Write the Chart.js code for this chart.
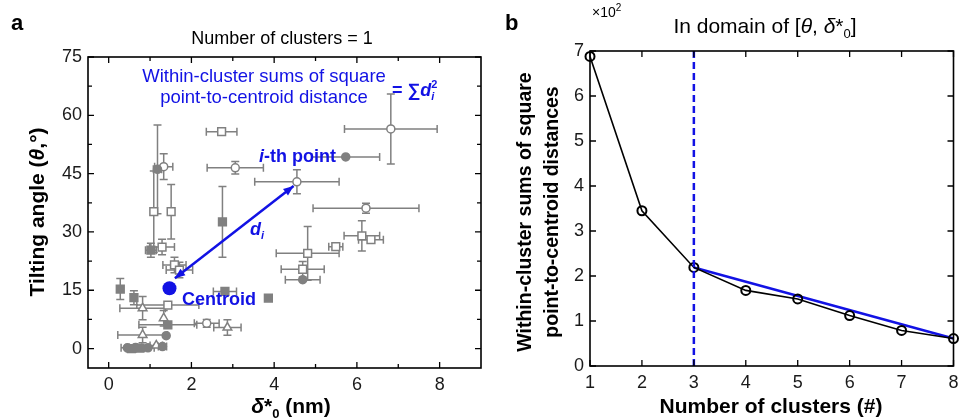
<!DOCTYPE html>
<html>
<head>
<meta charset="utf-8">
<script src="https://cdn.jsdelivr.net/npm/chart.js@4.4.1/dist/chart.umd.min.js"></script>
<style>
  body { margin: 0; background: #fff; }
  #wrap { position: relative; width: 960px; height: 418px; overflow: hidden; }
  canvas { position: absolute; top: 0; }
  #chartA { left: 0; }
  #chartB { left: 484px; }
</style>
</head>
<body>
<div id="wrap">
  <canvas id="chartA" width="488" height="418"></canvas>
  <canvas id="chartB" width="476" height="418"></canvas>
</div>
<script>
// ---- panel a data: [delta*0 (nm), theta (deg), x error, y error] ----
const filledSquares = [
  [2.75, 32.6, 0, 9.1], [0.28, 15.3, 0, 2.7], [0.61, 13.1, 0, 1.8], [1.43, 6.1, 0.7, 0],
  [2.81, 14.7, 0.28, 0], [3.86, 13.0, 0, 0], [1.02, 25.3, 0.13, 1.8],
  [0.55, 0.0, 0.12, 0], [0.75, 0.1, 0.12, 0]
];
const filledCircles = [
  [5.73, 49.3, 0.82, 0], [1.18, 46.1, 0.1, 11.4], [4.69, 17.7, 0.42, 0], [1.39, 3.3, 0, 0],
  [0.45, 0.2, 0.15, 0], [0.65, 0.3, 0.15, 0], [0.95, 0.2, 0.15, 0], [1.3, 0.5, 0.1, 0]
];
const openCircles = [
  [6.82, 56.5, 1.12, 9.0], [3.06, 46.5, 0.68, 1.6], [4.55, 42.9, 1.02, 3.1],
  [6.22, 36.1, 1.28, 1.3], [1.33, 46.8, 0.22, 3.3], [2.37, 6.5, 0.3, 1.0]
];
const openSquares = [
  [2.73, 55.8, 0.37, 0.8], [1.09, 35.2, 0, 10.5], [1.51, 35.2, 0, 7.0], [1.29, 26.1, 0.3, 2.0],
  [1.59, 21.5, 0.28, 2.0], [1.71, 20.2, 0.32, 2.0], [1.43, 11.2, 0.75, 0],
  [4.81, 24.5, 0.76, 6.9], [4.69, 20.4, 0.52, 2.0], [5.49, 26.2, 0.17, 0.8],
  [6.12, 29.0, 0.43, 3.9], [6.34, 28.0, 0.3, 0.8]
];
const openTriangles = [
  [0.82, 10.4, 0.55, 3.0], [1.33, 7.8, 0, 2.0], [0.82, 3.5, 0.6, 2.0],
  [2.87, 5.4, 0.33, 2.0], [1.15, 0.8, 0.15, 0]
];
const centroid = [1.47, 15.5];
const arrowEnds = [[1.6, 18.1], [4.47, 41.8]];

const aXTicks = [0, 2, 4, 6, 8];
const aXMinor = [1, 3, 5, 7];
const aYTicks = [0, 15, 30, 45, 60, 75];
const aYMinor = [7.5, 22.5, 37.5, 52.5, 67.5];

// ---- panel b data ----
const bClusters = [1, 2, 3, 4, 5, 6, 7, 8];
const bWcss = [6.88, 3.45, 2.19, 1.68, 1.49, 1.12, 0.79, 0.61]; // x10^2
const bYTicks = [0, 1, 2, 3, 4, 5, 6, 7];
const elbowK = 3;

const GRAY = 'rgb(128,128,128)';
const BLUE = 'rgb(18,18,228)';
const FAM = '"Liberation Sans", Arial, sans-serif';
const f = (s) => s + ' ' + FAM;

function toPts(arr) {
  return arr.map(p => ({ x: p[0], y: p[1], xe: p[2], ye: p[3] }));
}

// draw a run of text pieces: [text, font, dy, advance]
function rich(ctx, parts, x, y, align) {
  let w = 0;
  parts.forEach(p => { ctx.font = p[1]; if (p[3] !== false) w += ctx.measureText(p[0]).width; });
  let cx = align === 'center' ? x - w / 2 : (align === 'right' ? x - w : x);
  ctx.textAlign = 'left';
  parts.forEach(p => {
    ctx.font = p[1];
    ctx.fillText(p[0], cx, y + (p[2] || 0));
    if (p[3] !== false) cx += ctx.measureText(p[0]).width;
  });
}

function frameTicks(chart, xMaj, xMin, yMaj, yMin) {
  const { ctx, chartArea: a, scales } = chart;
  ctx.save();
  ctx.strokeStyle = '#000';
  ctx.lineWidth = 1.6;
  ctx.strokeRect(a.left, a.top, a.right - a.left, a.bottom - a.top);
  ctx.lineWidth = 1.3;
  const tx = (vals, len) => vals.forEach(v => {
    const px = scales.x.getPixelForValue(v);
    ctx.beginPath();
    ctx.moveTo(px, a.bottom); ctx.lineTo(px, a.bottom - len);
    ctx.moveTo(px, a.top); ctx.lineTo(px, a.top + len);
    ctx.stroke();
  });
  const ty = (vals, len) => vals.forEach(v => {
    const py = scales.y.getPixelForValue(v);
    ctx.beginPath();
    ctx.moveTo(a.left, py); ctx.lineTo(a.left + len, py);
    ctx.moveTo(a.right, py); ctx.lineTo(a.right - len, py);
    ctx.stroke();
  });
  tx(xMaj, 6); tx(xMin, 4); ty(yMaj, 6); ty(yMin, 4);
  ctx.restore();
}

const errorBars = {
  id: 'errorBars',
  beforeDatasetsDraw(chart) {
    const { ctx, scales } = chart;
    ctx.save();
    ctx.strokeStyle = GRAY;
    ctx.lineWidth = 1.5;
    chart.data.datasets.forEach(ds => {
      ds.data.forEach(p => {
        const px = scales.x.getPixelForValue(p.x), py = scales.y.getPixelForValue(p.y);
        ctx.beginPath();
        if (p.xe) {
          const l = scales.x.getPixelForValue(p.x - p.xe), r = scales.x.getPixelForValue(p.x + p.xe);
          ctx.moveTo(l, py); ctx.lineTo(r, py);
          ctx.moveTo(l, py - 4); ctx.lineTo(l, py + 4);
          ctx.moveTo(r, py - 4); ctx.lineTo(r, py + 4);
        }
        if (p.ye) {
          const t = scales.y.getPixelForValue(p.y + p.ye), b = scales.y.getPixelForValue(p.y - p.ye);
          ctx.moveTo(px, t); ctx.lineTo(px, b);
          ctx.moveTo(px - 4, t); ctx.lineTo(px + 4, t);
          ctx.moveTo(px - 4, b); ctx.lineTo(px + 4, b);
        }
        ctx.stroke();
      });
    });
    ctx.restore();
  }
};

function arrowHead(ctx, x0, y0, x1, y1) {
  const ang = Math.atan2(y1 - y0, x1 - x0);
  ctx.beginPath();
  ctx.moveTo(x1, y1);
  ctx.lineTo(x1 - 11 * Math.cos(ang - 0.38), y1 - 11 * Math.sin(ang - 0.38));
  ctx.lineTo(x1 - 11 * Math.cos(ang + 0.38), y1 - 11 * Math.sin(ang + 0.38));
  ctx.closePath();
  ctx.fill();
}

const decorA = {
  id: 'decorA',
  afterDraw(chart) {
    const { ctx, scales } = chart;
    frameTicks(chart, aXTicks, aXMinor, aYTicks, aYMinor);
    ctx.save();
    // arrow between centroid and i-th point
    const x0 = scales.x.getPixelForValue(arrowEnds[0][0]), y0 = scales.y.getPixelForValue(arrowEnds[0][1]);
    const x1 = scales.x.getPixelForValue(arrowEnds[1][0]), y1 = scales.y.getPixelForValue(arrowEnds[1][1]);
    ctx.strokeStyle = BLUE; ctx.fillStyle = BLUE; ctx.lineWidth = 2.5;
    ctx.beginPath(); ctx.moveTo(x0, y0); ctx.lineTo(x1, y1); ctx.stroke();
    arrowHead(ctx, x1, y1, x0, y0);
    arrowHead(ctx, x0, y0, x1, y1);

    ctx.textBaseline = 'alphabetic';
    ctx.fillStyle = BLUE;
    ctx.font = f('18.5px'); ctx.textAlign = 'center';
    ctx.fillText('Within-cluster sums of square', 264, 82);
    ctx.fillText('point-to-centroid distance', 264, 103);
    rich(ctx, [['= \u2211', f('bold 18px')], ['d', f('italic bold 18px')],
      ['2', f('bold 11px'), -8, false], ['i', f('italic bold 11px'), 4]], 392, 96, 'left');
    rich(ctx, [['i', f('italic bold 18px')], ['-th point', f('bold 18px')]], 259, 162, 'left');
    rich(ctx, [['d', f('italic bold 18px')], ['i', f('italic bold 11px'), 4]], 250, 235, 'left');
    ctx.font = f('bold 18px'); ctx.textAlign = 'left';
    ctx.fillText('Centroid', 182, 305);

    ctx.fillStyle = '#000';
    ctx.font = f('18px'); ctx.textAlign = 'center';
    ctx.fillText('Number of clusters = 1', 282, 44);
    ctx.font = f('bold 22px'); ctx.textAlign = 'left';
    ctx.fillText('a', 11, 30);
    rich(ctx, [['\u03b4', f('italic bold 21px')], ['*', f('bold 21px')], ['0', f('bold 13px'), 5],
      [' (nm)', f('bold 21px')]], 291, 413, 'center');
    ctx.translate(44, 212); ctx.rotate(-Math.PI / 2);
    rich(ctx, [['Tilting angle (', f('bold 21px')], ['\u03b8', f('italic bold 21px')],
      [',\u00b0)', f('bold 21px')]], 0, 0, 'center');
    ctx.restore();
  }
};

const decorB = {
  id: 'decorB',
  afterDraw(chart) {
    const { ctx } = chart;
    frameTicks(chart, bClusters, [], bYTicks, []);
    ctx.save();
    ctx.fillStyle = '#000';
    ctx.textBaseline = 'alphabetic';
    ctx.font = f('bold 22px'); ctx.textAlign = 'left';
    ctx.fillText('b', 21, 30);
    rich(ctx, [['In domain of [', f('21px')], ['\u03b8', f('italic 21px')], [', ', f('21px')],
      ['\u03b4', f('italic 21px')], ['*', f('21px')], ['0', f('13px'), 5], [']', f('21px')]], 281, 33, 'center');
    rich(ctx, [['\u00d710', f('14px')], ['2', f('10px'), -6]], 108, 17, 'left');
    ctx.font = f('bold 21px'); ctx.textAlign = 'center';
    ctx.fillText('Number of clusters (#)', 287, 413);
    ctx.font = f('bold 19.5px');
    ctx.translate(0, 212); ctx.rotate(-Math.PI / 2);
    ctx.fillText('Within-cluster sums of square', 0, 47);
    ctx.fillText('point-to-centroid distances', 0, 74);
    ctx.restore();
  }
};

const tickFont = { family: FAM, size: 18 };

function axis(min, max, ticks, fit, extra) {
  return Object.assign({
    type: 'linear', min: min, max: max,
    afterBuildTicks: s => { s.ticks = ticks.map(v => ({ value: v })); },
    afterFit: s => {
      fit(s);
      s.paddingLeft = 0; s.paddingRight = 0; s.paddingTop = 0; s.paddingBottom = 0;
    },
    grid: { display: false, drawTicks: false },
    border: { display: false },
    ticks: { font: tickFont, color: '#1a1a1a', padding: 6, autoSkip: false, maxRotation: 0 }
  }, extra || {});
}

const markerDs = (arr, style, fill, r) => ({
  data: toPts(arr), pointStyle: style, pointRadius: r,
  backgroundColor: fill, borderColor: GRAY, pointBorderWidth: 1.5
});

new Chart(document.getElementById('chartA'), {
  type: 'scatter',
  data: {
    datasets: [
      markerDs(filledSquares, 'rect', GRAY, 5.5),
      markerDs(filledCircles, 'circle', GRAY, 4),
      markerDs(openSquares, 'rect', '#fff', 5.5),
      markerDs(openCircles, 'circle', '#fff', 4),
      markerDs(openTriangles, 'triangle', '#fff', 5),
      { data: [{ x: centroid[0], y: centroid[1] }], pointStyle: 'circle', pointRadius: 7,
        backgroundColor: BLUE, borderColor: BLUE, pointBorderWidth: 0 }
    ]
  },
  options: {
    responsive: false, animation: false, devicePixelRatio: 1,
    layout: { padding: { left: 0, right: 2.5, top: 57, bottom: 0 } },
    plugins: { legend: { display: false }, tooltip: { enabled: false } },
    scales: {
      x: axis(-0.5, 9, aXTicks, s => { s.height = 50; }),
      y: axis(-5, 75, aYTicks, s => { s.width = 88; })
    }
  },
  plugins: [errorBars, decorA]
});

new Chart(document.getElementById('chartB'), {
  type: 'scatter',
  data: {
    datasets: [
      { data: [{ x: elbowK, y: 0 }, { x: elbowK, y: 7 }], showLine: true, borderColor: BLUE,
        borderWidth: 2.5, borderDash: [7, 4], pointRadius: 0 },
      { data: bClusters.map((k, i) => ({ x: k, y: bWcss[i] })), showLine: true,
        borderColor: '#000', borderWidth: 1.6, pointRadius: 4.5, pointBorderWidth: 2,
        pointBorderColor: '#000', pointBackgroundColor: 'rgba(0,0,0,0)' },
      { data: [{ x: elbowK, y: bWcss[elbowK - 1] }, { x: 8, y: bWcss[7] }], showLine: true,
        borderColor: BLUE, borderWidth: 2.5, pointRadius: 0 }
    ]
  },
  options: {
    responsive: false, animation: false, devicePixelRatio: 1,
    layout: { padding: { left: 0, right: 3, top: 51, bottom: 0 } },
    plugins: { legend: { display: false }, tooltip: { enabled: false } },
    clip: false,
    scales: {
      x: axis(1, 8, bClusters, s => { s.height = 52; }),
      y: axis(0, 7, bYTicks, s => { s.width = 106; })
    }
  },
  plugins: [decorB]
});
</script>
</body>
</html>
